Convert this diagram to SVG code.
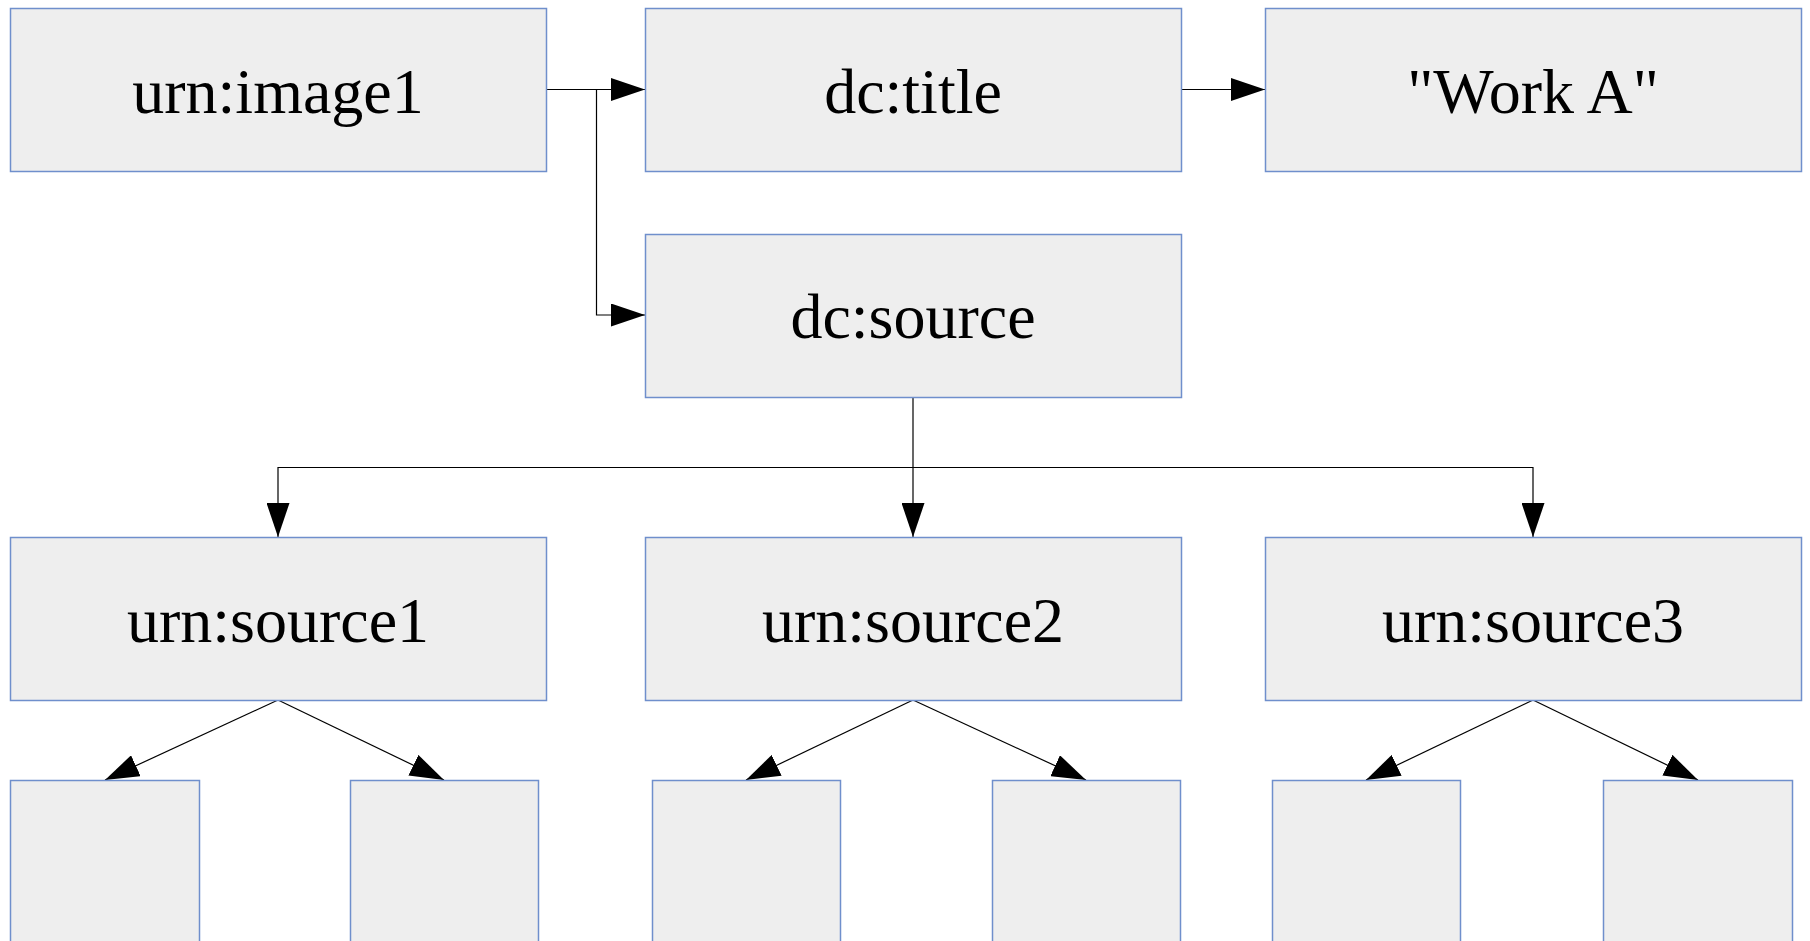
<svg xmlns="http://www.w3.org/2000/svg" width="1810" height="941" viewBox="0 0 1810 941">
<defs>
<style>
.box{fill:#eeeeee;stroke:#6f8fcc;stroke-width:1.5}
.lbl{font-family:"Liberation Serif","Times New Roman",serif;font-size:64px;fill:#000;text-anchor:middle}
.c{fill:none;stroke:#000;stroke-width:1.2}
</style>
<marker id="ah" viewBox="0 0 34 23" refX="34" refY="11.5" markerWidth="34" markerHeight="23" markerUnits="userSpaceOnUse" orient="auto">
<path d="M0,0 L34,11.5 L0,23 Z" fill="#000"/>
</marker>
</defs>
<rect width="1810" height="941" fill="#fff"/>
<g id="connectors">
<path class="c" d="M546,89.5 H645" marker-end="url(#ah)"/>
<path class="c" d="M596.5,89.5 V315 H645" marker-end="url(#ah)"/>
<path class="c" d="M1181,89.5 H1265" marker-end="url(#ah)"/>
<path class="c" d="M913,397 V537" marker-end="url(#ah)"/>
<path class="c" d="M913,467.5 H278 V537" marker-end="url(#ah)"/>
<path class="c" d="M913,467.5 H1533 V537" marker-end="url(#ah)"/>
<path class="c" d="M278,700 L105,780" marker-end="url(#ah)"/>
<path class="c" d="M278,700 L444,780" marker-end="url(#ah)"/>
<path class="c" d="M913,700 L746,780" marker-end="url(#ah)"/>
<path class="c" d="M913,700 L1086,780" marker-end="url(#ah)"/>
<path class="c" d="M1533,700 L1366,780" marker-end="url(#ah)"/>
<path class="c" d="M1533,700 L1698,780" marker-end="url(#ah)"/>
</g>
<g id="n-image1"><rect class="box" x="10.5" y="8.5" width="536" height="163"/><text class="lbl" x="278" y="113">urn:image1</text></g>
<g id="n-title"><rect class="box" x="645.5" y="8.5" width="536" height="163"/><text class="lbl" x="913" y="113">dc:title</text></g>
<g id="n-worka"><rect class="box" x="1265.5" y="8.5" width="536" height="163"/><text class="lbl" x="1533" y="113">"Work A"</text></g>
<g id="n-source"><rect class="box" x="645.5" y="234.5" width="536" height="163"/><text class="lbl" x="913" y="338">dc:source</text></g>
<g id="n-source1"><rect class="box" x="10.5" y="537.5" width="536" height="163"/><text class="lbl" x="278" y="642">urn:source1</text></g>
<g id="n-source2"><rect class="box" x="645.5" y="537.5" width="536" height="163"/><text class="lbl" x="913" y="642">urn:source2</text></g>
<g id="n-source3"><rect class="box" x="1265.5" y="537.5" width="536" height="163"/><text class="lbl" x="1533" y="642">urn:source3</text></g>
<g id="n-leaf1"><rect class="box" x="10.5" y="780.5" width="189" height="170"/></g>
<g id="n-leaf2"><rect class="box" x="350.5" y="780.5" width="188" height="170"/></g>
<g id="n-leaf3"><rect class="box" x="652.5" y="780.5" width="188" height="170"/></g>
<g id="n-leaf4"><rect class="box" x="992.5" y="780.5" width="188" height="170"/></g>
<g id="n-leaf5"><rect class="box" x="1272.5" y="780.5" width="188" height="170"/></g>
<g id="n-leaf6"><rect class="box" x="1603.5" y="780.5" width="189" height="170"/></g>
</svg>
